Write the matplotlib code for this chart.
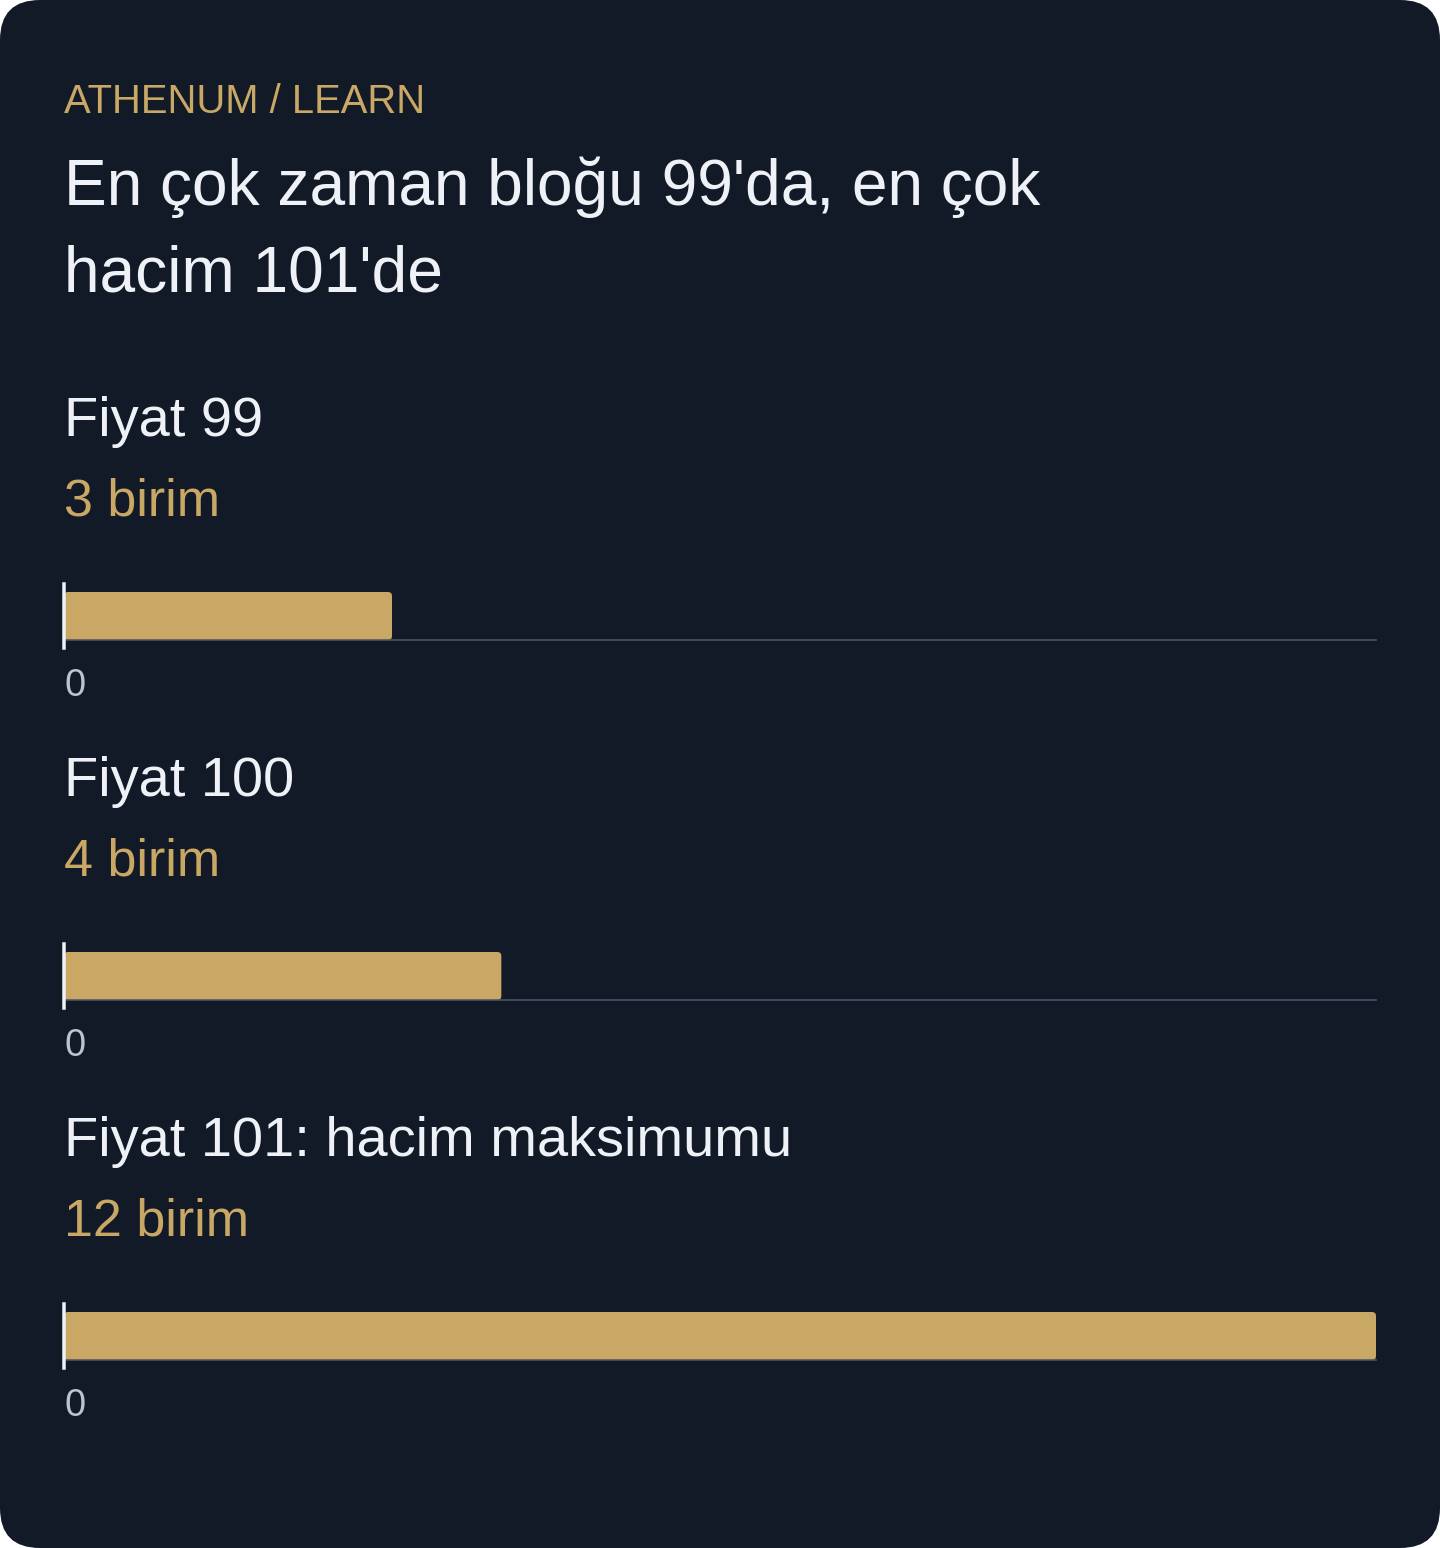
import matplotlib
matplotlib.use('Agg')
import matplotlib.pyplot as plt
from matplotlib.patches import FancyBboxPatch

plt.rcParams['font.family'] = ['Liberation Sans', 'DejaVu Sans']

# data
kicker = 'ATHENUM / LEARN'
title_lines = ["En çok zaman bloğu 99'da, en çok", "hacim 101'de"]
labels = ['Fiyat 99', 'Fiyat 100', 'Fiyat 101: hacim maksimumu']
values = [3, 4, 12]
value_texts = ['3 birim', '4 birim', '12 birim']
x_max = 12

BG = '#131a27'
GOLD = '#c9a764'
TEXT = '#eef2f7'
GRID = '#4b5563'
TICK = '#bcc3ce'

W, H = 1440, 1548
DPI = 100
PX = 72 / DPI   # px -> pt

fig = plt.figure(figsize=(W / DPI, H / DPI), dpi=DPI, facecolor='white')

# full-figure axes in pixel coords for card + text
bg = fig.add_axes([0, 0, 1, 1])
bg.set_xlim(0, W)
bg.set_ylim(H, 0)
bg.axis('off')
card = FancyBboxPatch((0, 0), W, H, boxstyle='round,pad=0,rounding_size=40',
                      facecolor=BG, edgecolor='none')
bg.add_patch(card)

left = 64
right = 1376

bg.text(left, 113, kicker, color=GOLD, fontsize=40 * PX, va='baseline', ha='left')
for i, line in enumerate(title_lines):
    bg.text(left, 205 + i * 87, line, color=TEXT, fontsize=64 * PX,
            va='baseline', ha='left')

panel_gap = 360
for i, (lab, val, vt) in enumerate(zip(labels, values, value_texts)):
    off = i * panel_gap
    bg.text(left, 436 + off, lab, color=TEXT, fontsize=56 * PX, va='baseline', ha='left')
    bg.text(left, 516 + off, vt, color=GOLD, fontsize=52 * PX, va='baseline', ha='left')

    # bar axes: spans the bar pixel rows
    top, bot = 592 + off, 640 + off
    ax_w, ax_h = right - left, bot - top
    ax = fig.add_axes([left / W, 1 - bot / H, ax_w / W, ax_h / H])
    ax.set_facecolor('none')
    ax.set_xlim(0, x_max)
    ax.set_ylim(0, 1)
    bars = ax.barh([0.5], [val], height=1.0, color=GOLD)
    # swap for slightly rounded bars (radius ~4px)
    x_per_px = x_max / ax_w
    y_per_px = 1 / ax_h
    for b in bars:
        b.set_visible(False)
        rb = FancyBboxPatch((b.get_x(), b.get_y()), b.get_width(), b.get_height(),
                            boxstyle='round,pad=0,rounding_size=%f' % (4 * x_per_px),
                            mutation_aspect=y_per_px / x_per_px,
                            facecolor=GOLD, edgecolor='none')
        ax.add_patch(rb)
    for s in ['top', 'right', 'left']:
        ax.spines[s].set_visible(False)
    ax.spines['bottom'].set_color(GRID)
    ax.spines['bottom'].set_linewidth(1.6 * PX)
    ax.axvline(0, ymin=-8 / ax_h, ymax=1 + 8 / ax_h, color=TEXT, lw=3.5 * PX,
               clip_on=False, zorder=5)
    ax.set_yticks([])
    ax.set_xticks([0])
    ax.set_xticklabels(['0'], color=TICK, fontsize=38 * PX, ha='left')
    ax.tick_params(axis='x', length=0, pad=28 * PX)

fig.savefig('out.png', dpi=DPI, facecolor='white')
